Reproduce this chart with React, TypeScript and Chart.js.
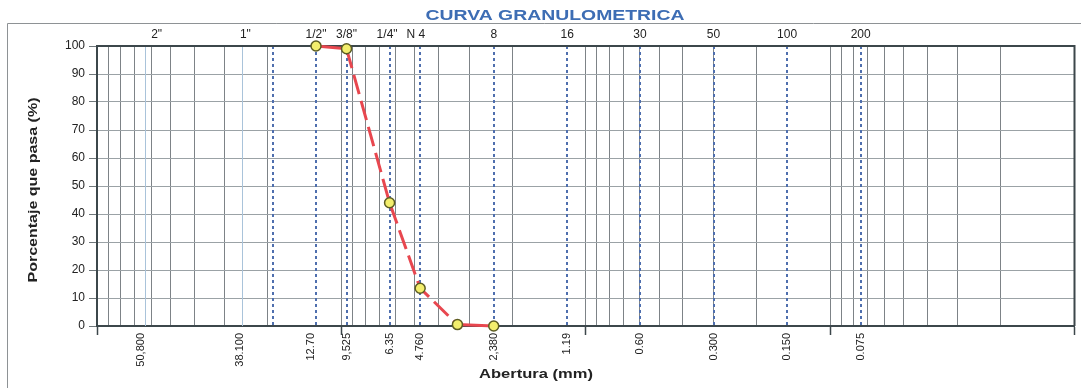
import React, { useEffect, useRef } from "react";
import { Chart, registerables } from "chart.js";

Chart.register(...registerables);

// ---- data ----
const sieveMm = [12.7, 9.525, 6.35, 4.76, 3.35, 2.38];
const percentPassing = [100, 99, 44, 13.5, 0.5, 0];

// dashed sieve reference lines (mm)
const sieveLineMm = [19.05, 12.7, 9.525, 6.35, 4.76, 2.38, 1.19, 0.6, 0.3, 0.15, 0.075];
// faint reference lines (mm)
const lightLineMm = [63.5, 25.4];

// top (sieve name) labels and where they sit (mm)
const topLabels = ['2"', '1"', '1/2"', '3/8"', '1/4"', "N 4", "8", "16", "30", "50", "100", "200"];
const topLabelMm = [57, 24.7, 12.7, 9.525, 6.5, 4.96, 2.38, 1.19, 0.6, 0.3, 0.15, 0.075];

// bottom (opening) labels and where they sit (mm)
const bottomLabels = ["50,800", "38.100", "12.70", "9,525", "6.35", "4.760", "2,380", "1.19", "0.60", "0.300", "0.150", "0.075"];
const bottomLabelMm = [66, 25.9, 13.3, 9.5, 6.35, 4.76, 2.38, 1.19, 0.6, 0.3, 0.15, 0.075];

// log grid ticks on the x axis (mm)
const xGridMm = [
  100, 90, 80, 70, 60, 50, 40, 30, 20,
  10, 9, 8, 7, 6, 5, 4, 3, 2,
  1, 0.9, 0.8, 0.7, 0.6, 0.5, 0.4, 0.3, 0.2,
  0.1, 0.09, 0.08, 0.07, 0.06, 0.05, 0.04, 0.03, 0.02,
  0.01,
];
const xDecadeMm = [100, 10, 1, 0.1, 0.01];

const FONT = "'Liberation Sans', Arial, sans-serif";

function drawText(
  ctx: CanvasRenderingContext2D,
  text: string,
  x: number,
  y: number,
  font: string,
  color: string,
  targetLen = 0,
  rotate = 0,
  align: CanvasTextAlign = "center"
) {
  ctx.save();
  ctx.font = font;
  ctx.fillStyle = color;
  ctx.textAlign = align;
  ctx.textBaseline = "middle";
  ctx.translate(x, y);
  if (rotate) ctx.rotate(rotate);
  const w = ctx.measureText(text).width;
  const s = targetLen ? targetLen / w : 1;
  ctx.scale(s, 1);
  ctx.fillText(text, 0, 0);
  ctx.restore();
}

const decorPlugin = {
  id: "decor",
  beforeDraw(chart: any) {
    const { ctx, width, height } = chart;
    ctx.save();
    ctx.fillStyle = "#ffffff";
    ctx.fillRect(0, 0, width, height);
    ctx.strokeStyle = "#8e9295";
    ctx.lineWidth = 1;
    ctx.beginPath();
    ctx.moveTo(7.5, height + 5);
    ctx.lineTo(7.5, 23.5);
    ctx.lineTo(width + 5, 23.5);
    ctx.stroke();
    ctx.restore();

    drawText(ctx, "CURVA GRANULOMETRICA", 555, 16, `bold 15px ${FONT}`, "#3d6db4", 259);
    drawText(ctx, "Porcentaje que pasa (%)", 34, 190, `bold 12px ${FONT}`, "#222", 185, -Math.PI / 2);
    drawText(ctx, "Abertura (mm)", 536, 374, `bold 13px ${FONT}`, "#222", 114);

    const xs = chart.scales.x;
    topLabels.forEach((t, i) =>
      drawText(ctx, t, xs.getPixelForValue(topLabelMm[i]), 35, `12px ${FONT}`, "#222")
    );
    bottomLabels.forEach((t, i) =>
      drawText(ctx, t, xs.getPixelForValue(bottomLabelMm[i]), 333, `11px ${FONT}`, "#222", 0, -Math.PI / 2, "right")
    );
  },
  beforeDatasetsDraw(chart: any) {
    const { ctx, chartArea: a } = chart;
    const xs = chart.scales.x;
    ctx.save();
    ctx.strokeStyle = "#a9c3da";
    ctx.lineWidth = 1;
    lightLineMm.forEach((v) => {
      const px = Math.round(xs.getPixelForValue(v)) + 0.5;
      ctx.beginPath();
      ctx.moveTo(px, a.top);
      ctx.lineTo(px, a.bottom);
      ctx.stroke();
    });
    ctx.strokeStyle = "#4f6fae";
    ctx.lineWidth = 2;
    ctx.setLineDash([3, 3]);
    sieveLineMm.forEach((v) => {
      const px = Math.round(xs.getPixelForValue(v));
      ctx.beginPath();
      ctx.moveTo(px, a.top);
      ctx.lineTo(px, a.bottom);
      ctx.stroke();
    });
    ctx.setLineDash([]);
    ctx.strokeStyle = "#3c474b";
    ctx.lineWidth = 2;
    ctx.beginPath();
    ctx.moveTo(a.left, a.top);
    ctx.lineTo(a.right, a.top);
    ctx.lineTo(a.right, a.bottom);
    ctx.stroke();
    ctx.restore();
  },
};

export default function App() {
  const ref = useRef<HTMLCanvasElement | null>(null);

  useEffect(() => {
    if (!ref.current) return;
    Chart.defaults.font.family = FONT;
    const chart = new Chart(ref.current, {
      type: "scatter",
      data: {
        datasets: [
          {
            data: sieveMm.map((x, i) => ({ x, y: percentPassing[i] })),
            showLine: true,
            borderColor: "#e8474f",
            borderWidth: 3,
            pointRadius: 5,
            pointBackgroundColor: "#f3ee6c",
            pointBorderColor: "#5c5c22",
            pointBorderWidth: 1.5,
            clip: false as any,
            segment: {
              borderDash: (c: any) =>
                c.p0DataIndex >= 1 && c.p0DataIndex <= 3 ? [20, 7] : undefined,
            },
          } as any,
        ],
      },
      options: {
        animation: false,
        responsive: false,
        layout: { padding: { top: 46, right: -1, bottom: 0, left: 0 } },
        plugins: { legend: { display: false }, tooltip: { enabled: false } },
        scales: {
          x: {
            type: "logarithmic",
            reverse: true,
            min: 0.01,
            max: 100,
            afterBuildTicks: (s: any) => {
              s.ticks = xGridMm.map((v) => ({ value: v, major: xDecadeMm.includes(v) }));
            },
            afterFit: (s: any) => {
              s.height = 62;
              s.paddingLeft = 0;
              s.paddingRight = 0;
            },
            ticks: { display: false },
            grid: {
              color: "#7d8387",
              lineWidth: 1,
              drawTicks: true,
              tickLength: 9,
              tickWidth: 1.5,
              tickColor: (c: any) => (c.tick && c.tick.major ? "#3c474b" : "rgba(0,0,0,0)"),
            },
            border: { color: "#3c474b", width: 2 },
          } as any,
          y: {
            type: "linear",
            min: 0,
            max: 100,
            afterFit: (s: any) => {
              s.width = 97;
            },
            ticks: {
              stepSize: 10,
              padding: 4,
              color: "#222",
              font: { size: 12, family: FONT },
            },
            grid: {
              color: "#9ba2a6",
              lineWidth: 1,
              tickLength: 8,
              tickColor: "#6f777b",
            },
            border: { color: "#3c474b", width: 2 },
          },
        },
      },
      plugins: [decorPlugin],
    });
    return () => chart.destroy();
  }, []);

  return (
    <div style={{ position: "fixed", left: 0, top: 0, width: 1081, height: 388, background: "#fff" }}>
      <canvas ref={ref} width={1081} height={388} style={{ display: "block" }} />
    </div>
  );
}
